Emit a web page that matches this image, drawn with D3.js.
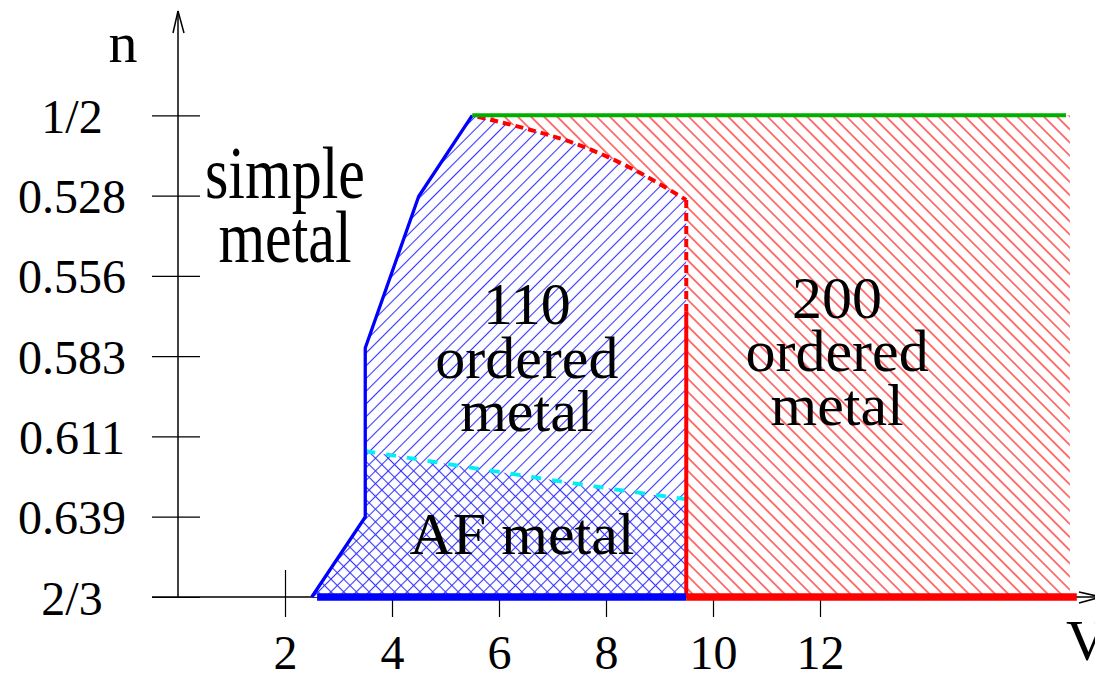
<!DOCTYPE html>
<html>
<head>
<meta charset="utf-8">
<script src="https://cdn.jsdelivr.net/npm/d3@7/dist/d3.min.js"></script>
<style>
  html, body { margin: 0; padding: 0; background: #fff; }
  svg { display: block; }
  text { font-family: "Liberation Serif", "Times New Roman", serif; fill: #000; }
</style>
</head>
<body>
<script>
// Axis ticks
const xTicks = [2, 4, 6, 8, 10, 12];
const yTicks = [18/36, 19/36, 20/36, 21/36, 22/36, 23/36, 24/36];
const yTickLabels = ["1/2", "0.528", "0.556", "0.583", "0.611", "0.639", "2/3"];

// Left edge of the ordered phases (V, n)
const leftEdgeV = [2.5, 3.5, 3.5, 4.5, 5.5];
const leftEdgeN = [2/3, 0.639, 0.5805, 0.528, 0.5];

// 110 / 200 boundary near half filling (dashed red)
const topEdgeV = [5.6, 6.5, 7.5, 8.5, 9.5];
const topEdgeN = [0.5005, 0.5046, 0.5103, 0.5186, 0.5293];

// Vertical 110 / 200 boundary
const splitV = 9.5;
const splitSolidTopN = 0.568;

// AF / 110 boundary (dashed cyan)
const afEdgeV = [3.5, 4.5, 6.0, 7.5, 8.5, 9.57];
const afEdgeN = [0.6162, 0.6191, 0.6234, 0.6276, 0.6303, 0.6330];

// Extent of the 200 phase and the half-filling line
const rightV = 16.67;
const halfLineV = [5.5, 16.6];
const bottomBlueV = [2.6, 9.5];
const bottomRedV = [9.5, 16.8];

const W = 1095, H = 675;
const x = d3.scaleLinear().domain([0, 17]).range([178, 178 + 17 * 53.5]);
const y = d3.scaleLinear().domain([0.5, 2/3]).range([115.3, 597]);
const axisY = y(2/3), axisX = x(0);

const svg = d3.select("body").append("svg").attr("width", W).attr("height", H);
svg.append("rect").attr("width", W).attr("height", H).attr("fill", "#fff");

// Hatch patterns
const defs = svg.append("defs");
function hatch(id, color, spacing, angle, width) {
  const p = defs.append("pattern").attr("id", id)
    .attr("patternUnits", "userSpaceOnUse")
    .attr("width", spacing).attr("height", spacing)
    .attr("patternTransform", `rotate(${angle})`);
  p.append("line").attr("x1", spacing / 2).attr("y1", 0)
    .attr("x2", spacing / 2).attr("y2", spacing)
    .attr("stroke", color).attr("stroke-width", width);
}
hatch("blueFwd", "#3535ff", 9, 45, 1.1);
hatch("blueBack", "#3535ff", 9, -45, 1.1);
hatch("redBack", "#ff1a1a", 9.3, -45, 1.2);

const zip = (vs, ns) => vs.map((v, i) => [v, ns[i]]);
const line = d3.line().x(d => x(d[0])).y(d => y(d[1]));
const smooth = d3.line().x(d => x(d[0])).y(d => y(d[1])).curve(d3.curveMonotoneX);

// Axes (drawn first so the phase regions cover the inner tick halves)
const gy = svg.append("g").attr("transform", `translate(${axisX},0)`)
  .call(d3.axisLeft(y).tickValues(yTicks).tickFormat((d, i) => yTickLabels[i]).tickSize(0));
gy.select(".domain").remove();
gy.selectAll(".tick line").attr("x1", -26).attr("x2", 22)
  .attr("stroke", "#000").attr("stroke-width", 1.2);
gy.selectAll(".tick text").attr("x", 72 - axisX).attr("dy", 17)
  .attr("text-anchor", "middle").style("font-size", "48px")
  .style("font-family", '"Liberation Serif", "Times New Roman", serif');

const gx = svg.append("g").attr("transform", `translate(0,${axisY})`)
  .call(d3.axisBottom(x).tickValues(xTicks).tickFormat(d3.format("d")).tickSize(0));
gx.select(".domain").remove();
gx.selectAll(".tick line").attr("y1", -27).attr("y2", 20)
  .attr("stroke", "#000").attr("stroke-width", 1.2);
gx.selectAll(".tick text").attr("y", 72).attr("dy", 0)
  .attr("text-anchor", "middle").style("font-size", "48px")
  .style("font-family", '"Liberation Serif", "Times New Roman", serif');

// Axis lines with arrow heads
svg.append("line").attr("x1", axisX).attr("y1", axisY).attr("x2", axisX).attr("y2", 11)
  .attr("stroke", "#000").attr("stroke-width", 1.5);
svg.append("path").attr("d", `M${axisX - 5},33 L${axisX},11 L${axisX + 6},33`)
  .attr("fill", "none").attr("stroke", "#000").attr("stroke-width", 1.5);
svg.append("line").attr("x1", 152).attr("y1", axisY).attr("x2", 1101).attr("y2", axisY)
  .attr("stroke", "#000").attr("stroke-width", 1.5);
svg.append("path").attr("d", `M1079,${axisY - 5} L1101,${axisY} L1079,${axisY + 6}`)
  .attr("fill", "none").attr("stroke", "#000").attr("stroke-width", 1.5);

// Region outlines
const topEdge = zip(topEdgeV, topEdgeN);
const topEdgePath = smooth(topEdge).slice(1); // path without the leading "M"
const blueD = line(zip(leftEdgeV, leftEdgeN)) + "L" + topEdgePath
  + "L" + x(splitV) + "," + y(2/3) + "Z";
const afPoly = [[leftEdgeV[0], leftEdgeN[0]], [leftEdgeV[1], leftEdgeN[1]]]
  .concat(zip(afEdgeV, afEdgeN).map(d => [Math.min(d[0], splitV), d[1]]))
  .concat([[splitV, 2/3]]);
const redD = "M" + x(splitV) + "," + y(2/3)
  + "L" + smooth(topEdge.slice().reverse()).slice(1)
  + line([[leftEdgeV[4], 0.5], [rightV, 0.5], [rightV, 2/3]]).replace("M", "L") + "Z";

svg.append("path").attr("d", redD).attr("fill", "#fff");
svg.append("path").attr("d", redD).attr("fill", "url(#redBack)");
svg.append("path").attr("d", blueD).attr("fill", "#fff");
svg.append("path").attr("d", blueD).attr("fill", "url(#blueFwd)");
svg.append("path").attr("d", line(afPoly) + "Z").attr("fill", "url(#blueBack)");

// Phase boundaries
svg.append("path").attr("d", smooth(zip(afEdgeV, afEdgeN)))
  .attr("fill", "none").attr("stroke", "#00eef5").attr("stroke-width", 3.8)
  .attr("stroke-dasharray", "10,11");
svg.append("path").attr("d", smooth(topEdge))
  .attr("fill", "none").attr("stroke", "#ff0000").attr("stroke-width", 4)
  .attr("stroke-dasharray", "8,5");
svg.append("path").attr("d", line([[splitV, topEdgeN[topEdgeN.length - 1]], [splitV, splitSolidTopN]]))
  .attr("fill", "none").attr("stroke", "#ff0000").attr("stroke-width", 4)
  .attr("stroke-dasharray", "8,5");
svg.append("path").attr("d", line([[splitV, 2/3], [splitV, splitSolidTopN]]))
  .attr("fill", "none").attr("stroke", "#ff0000").attr("stroke-width", 4);
svg.append("path").attr("d", line(zip(leftEdgeV, leftEdgeN)))
  .attr("fill", "none").attr("stroke", "#0000ff").attr("stroke-width", 3.3)
  .attr("stroke-linejoin", "miter");
svg.append("path").attr("d", line(halfLineV.map(v => [v, 0.5])))
  .attr("fill", "none").attr("stroke", "#00b000").attr("stroke-width", 4);
svg.append("path").attr("d", line(bottomBlueV.map(v => [v, 2/3])))
  .attr("fill", "none").attr("stroke", "#0000ff").attr("stroke-width", 7.5);
svg.append("path").attr("d", line(bottomRedV.map(v => [v, 2/3])))
  .attr("fill", "none").attr("stroke", "#ff0000").attr("stroke-width", 7.5);

// Axis titles
svg.append("text").attr("x", 123).attr("y", 62).attr("text-anchor", "middle")
  .style("font-size", "58px").text("n");
svg.append("text").attr("x", 1066).attr("y", 660)
  .style("font-size", "58px").text("V");

// Phase labels
function label(v, baselines, lines, stretch) {
  lines.forEach((t, i) => {
    svg.append("text")
      .attr("transform", `translate(${x(v)},${baselines[i]}) scale(1,${stretch})`)
      .attr("text-anchor", "middle").style("font-size", "60px").text(t);
  });
}
label(2.0, [198, 262], ["simple", "metal"], 1.22);
label(6.52, [324, 378, 431], ["110", "ordered", "metal"], 1);
label(12.32, [318, 371, 425], ["200", "ordered", "metal"], 1);
label(6.43, [554], ["AF metal"], 1);
</script>
</body>
</html>
